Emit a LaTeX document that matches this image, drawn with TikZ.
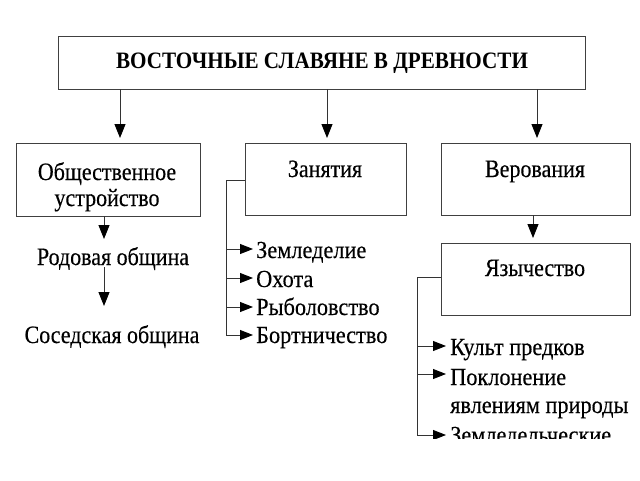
\documentclass[tikz,border=0pt]{standalone}
\usepackage{fontspec}
\setmainfont{Liberation Serif}[FakeStretch=0.88,FakeBold=0.3]
\newfontfamily\titlefont{Liberation Serif}[FakeStretch=0.9]
\newfontfamily\itemfont{Liberation Serif}[FakeStretch=0.91,FakeBold=0.3]
\usetikzlibrary{arrows.meta}
\begin{document}
\begin{tikzpicture}[x=1pt,y=-1pt,
  boxstyle/.style={draw=black!75,line width=1pt,rectangle,inner sep=0pt},
  conn/.style={draw=black!80,line width=0.9pt},
  arr/.style={conn,-{Triangle[length=14pt,width=11pt,color=black]}},
  sarr/.style={conn,-{Triangle[length=13pt,width=10pt,color=black]}},
  titletext/.style={font=\titlefont\fontsize{23.5}{26}\selectfont\bfseries,anchor=base,inner sep=0pt},
  boxtext/.style={font=\fontsize{25}{28}\selectfont,anchor=base,inner sep=0pt},
  itemtext/.style={font=\itemfont\fontsize{24.5}{26}\selectfont,anchor=base west,inner sep=0pt}]
\useasboundingbox (0,0) rectangle (640,480);
\fill[white] (0,0) rectangle (640,480);
\begin{scope}
\clip (0,0) rectangle (640,438);
% boxes
\node[boxstyle,minimum width=527pt,minimum height=53pt] (top) at (321.5,62.5) {};
\node[boxstyle,minimum width=184pt,minimum height=73pt] (b1) at (108,179.5) {};
\node[boxstyle,minimum width=161pt,minimum height=72pt] (b2) at (325.5,179) {};
\node[boxstyle,minimum width=189pt,minimum height=72pt] (b3) at (535.5,179) {};
\node[boxstyle,minimum width=189pt,minimum height=72pt] (b4) at (535.5,279) {};
% texts
\node[titletext] (tt) at (322,68) {ВОСТОЧНЫЕ СЛАВЯНЕ В ДРЕВНОСТИ};
\node[boxtext] (t1a) at (107,180) {Общественное};
\node[boxtext] (t1b) at (107,206) {устройство};
\node[boxtext] (t2) at (325,177) {Занятия};
\node[boxtext] (t3) at (535,177) {Верования};
\node[boxtext] (t4) at (535,276) {Язычество};
\node[boxtext] (r1) at (113,265) {Родовая община};
\node[boxtext] (r2) at (112,343) {Соседская община};
% top arrows
\coordinate (a1s) at (120,89);  \coordinate (a1e) at (120,138);
\coordinate (a2s) at (327,89);  \coordinate (a2e) at (327,138);
\coordinate (a3s) at (537,89);  \coordinate (a3e) at (537,138);
\draw[arr] (a1s) -- (a1e);
\draw[arr] (a2s) -- (a2e);
\draw[arr] (a3s) -- (a3e);
% left column
\coordinate (l1s) at (104,216); \coordinate (l1e) at (104,239);
\coordinate (l2s) at (104,267); \coordinate (l2e) at (104,306);
\draw[arr] (l1s) -- (l1e);
\draw[arr] (l2s) -- (l2e);
% middle bracket
\coordinate (m0) at (245,180);
\coordinate (m1) at (226,180);
\coordinate (mb) at (226,335);
\draw[conn] (m0) -- (m1) -- (mb);
\foreach \yy/\nm in {249/z1,278/z2,307/z3,335/z4}{
  \coordinate (\nm s) at (226,\yy);
  \coordinate (\nm e) at (253,\yy);
  \draw[sarr] (\nm s) -- (\nm e);
}
\node[itemtext] (i1) at (256,258) {Земледелие};
\node[itemtext] (i2) at (256,287) {Охота};
\node[itemtext] (i3) at (256,315) {Рыболовство};
\node[itemtext] (i4) at (256,343) {Бортничество};
% right
\coordinate (r3s) at (533,215); \coordinate (r3e) at (533,238);
\draw[arr] (r3s) -- (r3e);
\coordinate (n0) at (441,277);
\coordinate (n1) at (417,277);
\coordinate (nb) at (417,435);
\draw[conn] (n0) -- (n1) -- (nb);
\foreach \yy/\nm in {346/k1,374/k2,435/k3}{
  \coordinate (\nm s) at (417,\yy);
  \coordinate (\nm e) at (446,\yy);
  \draw[sarr] (\nm s) -- (\nm e);
}
\node[itemtext] (j1) at (450,355) {Культ предков};
\node[itemtext] (j2) at (450,385) {Поклонение};
\node[itemtext] (j3) at (450,413) {явлениям природы};
\node[itemtext] (j4) at (450,443) {Земледельческие};
\end{scope}
\end{tikzpicture}
\end{document}
